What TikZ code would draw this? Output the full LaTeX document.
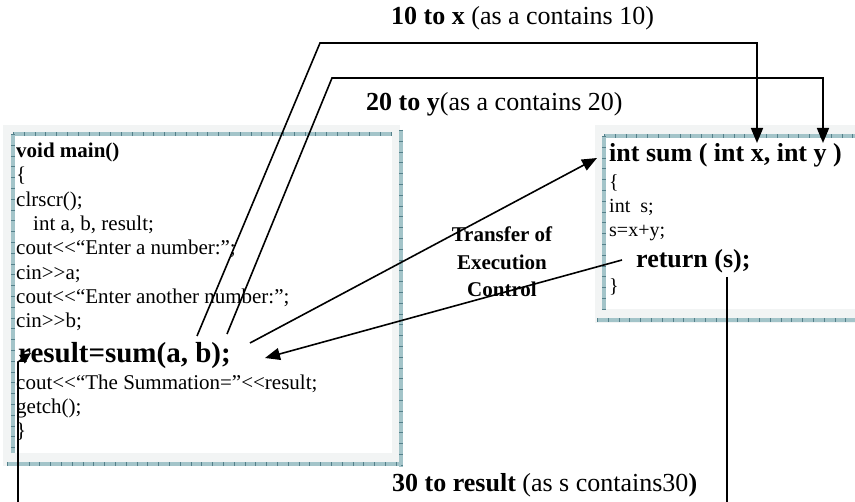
\documentclass[tikz,border=0pt]{standalone}
\usepackage{fontspec}
\newfontfamily\tnr{Liberation Serif}
\usetikzlibrary{arrows.meta}
\definecolor{pPanel}{RGB}{242,244,244}
\definecolor{pRim}{RGB}{163,196,201}
\definecolor{pTick}{RGB}{84,128,138}
\tikzset{
    codeline/.style={anchor=base west, inner sep=0pt, font=\tnr\fontsize{21}{24}\selectfont},
    bodyline/.style={anchor=base west, inner sep=0pt, font=\tnr\fontsize{20}{24}\selectfont},
    headline/.style={anchor=base west, inner sep=0pt, font=\tnr\bfseries\fontsize{26}{30}\selectfont},
    callline/.style={anchor=base west, inner sep=0pt, font=\tnr\bfseries\fontsize{29}{32}\selectfont},
    lbl/.style={anchor=base west, inner sep=0pt, font=\tnr\fontsize{26}{30}\selectfont},
    ctrl/.style={align=center, inner sep=0pt, font=\tnr\bfseries\fontsize{21}{27.5}\selectfont},
    rim/.style={line width=4pt, draw=pRim},
    ticks/.style={line width=4pt, draw=pTick, dash pattern=on 0.8pt off 10pt},
    wire/.style={line width=1.6pt},
    tip/.style={-{Triangle[length=15pt,width=12pt]}},
    smalltip/.style={-{Triangle[length=11pt,width=10pt]}}
}

\begin{document}
\begin{tikzpicture}[x=1pt,y=-1pt]
\useasboundingbox (0,0) rectangle (855,502);
% main() panel
\fill[pPanel] (3,125) rectangle (400,466);
\fill[white] (13,134) rectangle (392,453);
\foreach \a/\b in {{(13,134)}/{(392,134)},{(13,134)}/{(13,453)},{(401,130)}/{(401,467)},{(7,464)}/{(401,464)}}{
    \draw[rim] \a -- \b;
    \draw[ticks] \a -- \b;
}
% sum() panel
\fill[pPanel] (595,125) rectangle (855,323);
\fill[white] (604,136) rectangle (855,309);
\foreach \a/\b in {{(604,136)}/{(855,136)},{(604,136)}/{(604,309)},{(597,320)}/{(855,320)}}{
    \draw[rim] \a -- \b;
    \draw[ticks] \a -- \b;
}
% caller code
\node[codeline] (m1)  at (16,158) {\bfseries void main()};
\node[codeline] (m2)  at (16,182) {\{};
\node[codeline] (m3)  at (16,207) {clrscr();};
\node[codeline] (m4)  at (33,231) {int a, b, result;};
\node[codeline] (m5)  at (16,255) {cout<<“Enter a number:”;};
\node[codeline] (m6)  at (16,280) {cin>>a;};
\node[codeline] (m7)  at (16,304) {cout<<“Enter another number:”;};
\node[codeline] (m8)  at (16,328) {cin>>b;};
\node[callline] (call) at (18,363) {result=sum(a, b);};
\node[codeline] (m10) at (16,390) {cout<<“The Summation=”<<result;};
\node[codeline] (m11) at (16,414) {getch();};
\node[codeline] (m12) at (16,438) {\}};
% called function
\node[headline] (head) at (609,162) {int sum ( int x, int y )};
\node[bodyline] (f2)  at (609,189) {\{};
\node[bodyline] (f3)  at (609,213) {int\ \ s;};
\node[bodyline] (f4)  at (609,237) {s=x+y;};
\node[headline] (ret) at (636,268) {return (s);};
\node[bodyline] (f6)  at (609,293) {\}};
% labels
\node[lbl] (tox) at (391,25) {\textbf{10 to x} (as a contains 10)};
\node[lbl] (toy) at (366,111) {\textbf{20 to y}(as a contains 20)};
\node[lbl] (tores) at (392,492) {\textbf{30 to result} (as s contains30\textbf{)}};
\node[ctrl] (transfer) at (502,262) {Transfer of\\Execution\\Control};
% end points
\coordinate (xout) at (197,336);
\coordinate (yout) at (227,334);
\coordinate (callout) at (250,343);
\coordinate (xin) at (757,143);
\coordinate (yin) at (823,143);
\coordinate (callin) at (597,158);
\coordinate (retout) at (622,260);
\coordinate (retin) at (265,358);
\coordinate (resdown) at (727,277);
\coordinate (resbot) at (727,502);
\coordinate (leftbot) at (18,502);
\coordinate (leftin) at (31,353);
% connectors
\draw[wire,tip] (xout) -- (320,43) -| (xin);
\draw[wire,tip] (yout) -- (332,78) -| (yin);
\draw[wire,tip] (callout) -- (callin);
\draw[wire,tip] (retout) -- (retin);
\draw[wire] (resdown) -- (resbot);
\draw[wire,smalltip] (leftbot) -- (18,362) -- (leftin);
\end{tikzpicture}
\end{document}
